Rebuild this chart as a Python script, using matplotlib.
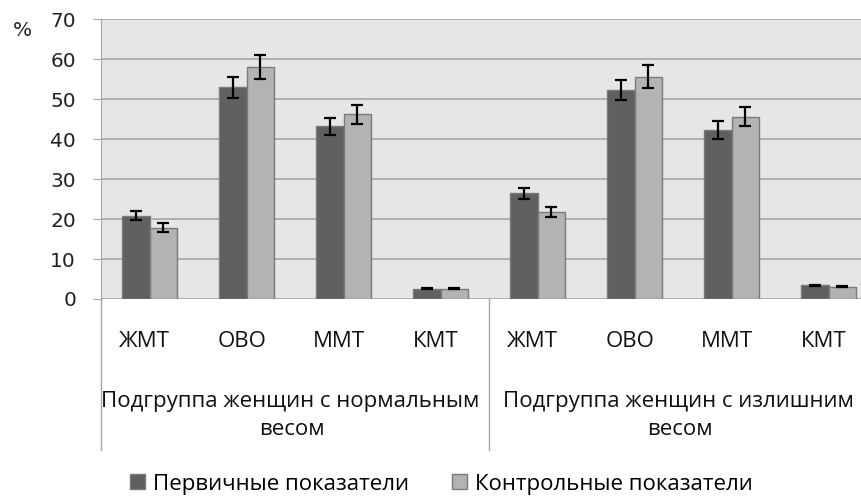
import numpy as np
import matplotlib
matplotlib.use("Agg")
import matplotlib.pyplot as plt
from matplotlib.patches import Patch

plt.rcParams["font.family"] = ["DejaVu Sans"]

categories = ["ЖМТ", "ОВО", "ММТ", "КМТ", "ЖМТ", "ОВО", "ММТ", "КМТ"]
groups = [["Подгруппа женщин с нормальным", "весом"],
          ["Подгруппа женщин с излишним", "весом"]]
series_names = ["Первичные показатели", "Контрольные показатели"]

primary = [20.8, 52.9, 43.2, 2.6, 26.4, 52.3, 42.3, 3.4]
primary_err = [1.1, 2.7, 2.1, 0.2, 1.4, 2.5, 2.2, 0.2]
control = [17.8, 58.0, 46.2, 2.6, 21.7, 55.6, 45.6, 3.1]
control_err = [1.1, 3.0, 2.4, 0.2, 1.2, 2.9, 2.4, 0.2]

dark = "#606060"
light = "#b3b3b3"
grid_col = "#a6a6a6"
text_font = ["Open Sans", "DejaVu Sans"]
text_size = 16

fig = plt.figure(figsize=(8.62, 4.98), dpi=100)
ax = fig.add_axes([0.1172, 0.3996, 0.9002, 0.5622])
ax.set_facecolor("#e6e6e6")

x = np.arange(len(categories))
bw = 0.284
err_kw = dict(ecolor="black", elinewidth=1.6, capsize=4, capthick=1.6)
ax.bar(x - bw / 2, primary, bw, yerr=primary_err, color=dark,
       edgecolor="#7a7a7a", linewidth=1, error_kw=err_kw, zorder=3)
ax.bar(x + bw / 2, control, bw, yerr=control_err, color=light,
       edgecolor="#7a7a7a", linewidth=1, error_kw=err_kw, zorder=3)

ax.set_xlim(-0.5, 7.5)
ax.set_ylim(0, 70)
ax.set_yticks(range(0, 71, 10))
ax.yaxis.grid(True, color=grid_col, linewidth=1.2, zorder=0)
ax.set_axisbelow(True)
ax.set_xticks([])
for s in ["top", "right", "bottom"]:
    ax.spines[s].set_visible(False)
ax.spines["left"].set_color(grid_col)
ax.tick_params(axis="y", length=6, color=grid_col, labelsize=14.5,
               labelcolor="#222222", pad=12)

# category and group labels under the axis
trans = ax.get_xaxis_transform()
for xi, name in zip(x, categories):
    ax.text(xi - 0.05, -0.171, name, transform=trans, ha="center", va="baseline",
            fontsize=text_size, family=text_font, color="#111111")
for gi, lines in enumerate(groups):
    ax.text(1.45 + 4 * gi, -0.386, lines[0], transform=trans, ha="center",
            va="baseline", fontsize=text_size, family=text_font, color="#111111")
    ax.text(1.47 + 4 * gi, -0.486, lines[1], transform=trans, ha="center",
            va="baseline", fontsize=text_size, family=text_font, color="#111111")
for sx in [-0.5, 3.5, 7.5]:
    ax.plot([sx, sx], [0, -0.539], transform=trans, color=grid_col,
            linewidth=1, clip_on=False)

fig.text(13 / 862, 1 - 31 / 498, "%", fontsize=14.5, color="#222222",
         ha="left", va="center")

handles = [Patch(facecolor=dark, edgecolor="#7a7a7a"),
           Patch(facecolor=light, edgecolor="#7a7a7a")]
fig.legend(handles, series_names, loc="center", bbox_to_anchor=(0.512, 0.028),
           ncol=2, frameon=False, prop={"family": text_font, "size": text_size},
           handlelength=0.68, handleheight=0.68, handletextpad=0.36,
           columnspacing=1.9, borderpad=0.1)

fig.savefig("out.png", dpi=100)
